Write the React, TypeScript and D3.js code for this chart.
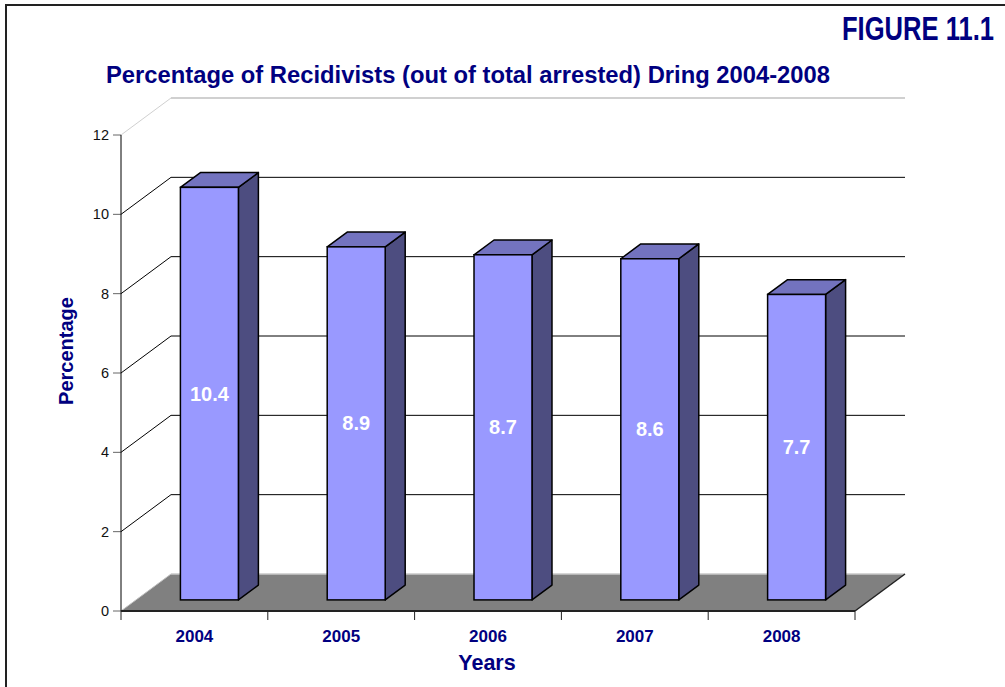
import React from "react";
import * as d3 from "d3";

const years = ["2004", "2005", "2006", "2007", "2008"];
const values = [10.4, 8.9, 8.7, 8.6, 7.7];
const yTicks = [0, 2, 4, 6, 8, 10, 12];

const W = 1005;
const H = 687;
const x0 = 121;
const x1 = 855;
const DX = 50; // depth offset
const DY = -37;
const BAR_D0 = 0.3;
const BAR_D1 = 0.7;

const FONT = "'Liberation Sans', Arial, Helvetica, sans-serif";
const NAVY = "#000080";

export default function App() {
  const y = d3.scaleLinear().domain([0, 12]).range([611, 135]);
  const x = d3.scaleBand().domain(years).range([x0, x1]).paddingInner(0).paddingOuter(0);
  const bw = x.bandwidth() * 0.395;

  const gridLines = yTicks.map((t) => {
    const yf = y(t);
    const yb = yf + DY;
    const top = t === 12;
    const col = top ? "#d0d0d0" : "#000";
    return (
      <g key={"g" + t}>
        {t !== 0 && <line x1={x0} y1={yf} x2={x0 + DX} y2={yb} stroke={col} strokeWidth={1} />}
        {t !== 0 && <line x1={x0 + DX} y1={yb} x2={x1 + DX} y2={yb} stroke={col} strokeWidth={top ? 2 : 1} />}
        <line x1={x0 - 8} y1={yf} x2={x0} y2={yf} stroke="#666" strokeWidth={1} />
        <text x={x0 - 12} y={yf} dy="0.35em" textAnchor="end" fontFamily={FONT} fontSize={14.5} fill="#111">
          {t}
        </text>
      </g>
    );
  });

  const floor = (
    <g>
      <polygon
        points={`${x0},${y(0)} ${x1},${y(0)} ${x1 + DX},${y(0) + DY} ${x0 + DX},${y(0) + DY}`}
        fill="#808080"
      />
      <line x1={x0 + DX} y1={y(0) + DY} x2={x1 + DX} y2={y(0) + DY} stroke="#c8c8c8" strokeWidth={1.5} />
      <line x1={x0} y1={y(0)} x2={x0 + DX} y2={y(0) + DY} stroke="#c0c0c0" strokeWidth={1} />
      <line x1={x1} y1={y(0)} x2={x1 + DX} y2={y(0) + DY} stroke="#222" strokeWidth={1.5} />
      <line x1={x0} y1={y(0)} x2={x1} y2={y(0)} stroke="#222" strokeWidth={2} />
    </g>
  );

  const bars = years.map((yr, i) => {
    const v = values[i];
    const cx = (x(yr) as number) + x.bandwidth() / 2;
    const fx = cx - bw / 2 + DX * BAR_D0;
    const oy = DY * BAR_D0;
    const dx = DX * (BAR_D1 - BAR_D0);
    const dy = DY * (BAR_D1 - BAR_D0);
    const yt = y(v) + oy;
    const yb = y(0) + oy;
    const fx2 = fx + bw;
    return (
      <g key={yr}>
        <polygon
          points={`${fx2},${yt} ${fx2 + dx},${yt + dy} ${fx2 + dx},${yb + dy} ${fx2},${yb}`}
          fill="#4d4d80"
          stroke="#000"
          strokeWidth={1.5}
          strokeLinejoin="round"
        />
        <polygon
          points={`${fx},${yt} ${fx + dx},${yt + dy} ${fx2 + dx},${yt + dy} ${fx2},${yt}`}
          fill="#7373bf"
          stroke="#000"
          strokeWidth={1.5}
          strokeLinejoin="round"
        />
        <rect x={fx} y={yt} width={bw} height={yb - yt} fill="#9999ff" stroke="#000" strokeWidth={1.5} />
        <text
          x={fx + bw / 2}
          y={(yt + yb) / 2}
          dy="0.35em"
          textAnchor="middle"
          fontFamily={FONT}
          fontWeight="bold"
          fontSize={20}
          fill="#fff"
        >
          {v.toFixed(1)}
        </text>
        <text
          x={cx}
          y={642}
          textAnchor="middle"
          fontFamily={FONT}
          fontWeight="bold"
          fontSize={17}
          fill={NAVY}
        >
          {yr}
        </text>
      </g>
    );
  });

  const xTicks = [...years.map((yr) => x(yr) as number), x1].map((xx, i) => (
    <line key={"xt" + i} x1={xx} y1={y(0)} x2={xx} y2={y(0) + 9} stroke="#222" strokeWidth={1} />
  ));

  return (
    <svg width={W} height={H} style={{ position: "absolute", left: 0, top: 0 }}>
      <rect x={0} y={0} width={W} height={H} fill="#fff" />
      <rect x={6} y={5} width={W + 20} height={H + 20} fill="none" stroke="#222" strokeWidth={2} />
      <text
        transform="translate(994,40) scale(0.752,1)"
        textAnchor="end"
        fontFamily={FONT}
        fontWeight="bold"
        fontSize={34}
        fill={NAVY}
      >
        FIGURE 11.1
      </text>
      <text
        x={468}
        y={83}
        textAnchor="middle"
        textLength={724}
        lengthAdjust="spacingAndGlyphs"
        fontFamily={FONT}
        fontWeight="bold"
        fontSize={23}
        fill={NAVY}
      >
        Percentage of Recidivists (out of total arrested) Dring 2004-2008
      </text>
      {gridLines}
      <line x1={x0} y1={y(12)} x2={x0} y2={y(0)} stroke="#000" strokeWidth={1} />
      {floor}
      {bars}
      {xTicks}
      <text
        transform={`translate(73,351) rotate(-90)`}
        textAnchor="middle"
        fontFamily={FONT}
        fontWeight="bold"
        fontSize={20}
        fill={NAVY}
      >
        Percentage
      </text>
      <text x={487} y={670} textAnchor="middle" fontFamily={FONT} fontWeight="bold" fontSize={21.5} fill={NAVY}>
        Years
      </text>
    </svg>
  );
}
